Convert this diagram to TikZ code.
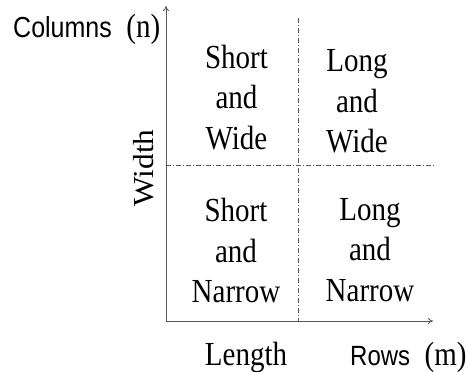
\documentclass[tikz,border=0pt]{standalone}
\usepackage{fontspec}
\setmainfont{Liberation Serif}
\newfontfamily\lsans{Liberation Sans}
\usetikzlibrary{arrows.meta}
\begin{document}
\begin{tikzpicture}[x=1pt,y=-1pt,
  axis/.style={draw=black!65, line width=0.8pt},
  divider/.style={draw=black!65, line width=0.7pt, dash pattern=on 5pt off 2pt on 1pt off 2pt},
  cell/.style={align=center, inner sep=0pt, font=\fontsize{29}{35}\selectfont, yscale=1.16},
  lbl/.style={inner sep=0pt, font=\fontsize{29}{35}\selectfont, yscale=1.16},
  slbl/.style={inner sep=0pt, font=\fontsize{29}{35}\selectfont, yscale=1.16}]
\useasboundingbox (0,0) rectangle (466,372);
% axes
\coordinate (O) at (166,321);
\coordinate (ytop) at (166,6);
\coordinate (xend) at (433,321);
\draw[axis, -{To[length=5pt,width=6pt]}] (O) -- (ytop);
\draw[axis, -{To[length=5pt,width=6pt]}] (O) -- (xend);
% dividers
\coordinate (vt) at (298.5,18);
\coordinate (vb) at (298.5,321);
\coordinate (hl) at (166,165);
\coordinate (hr) at (434,165);
\draw[divider] (vt) -- (vb);
\draw[divider] (hl) -- (hr);
% cells
\node[cell] (sw) at (236.5,97.5) {Short\\and\\Wide};
\node[cell] (lw) at (357,101.5) {Long\\and\\Wide};
\node[cell] (sn) at (236,250.5) {Short\\and\\Narrow};
\node[cell] (ln) at (370,250) {Long\\and\\Narrow};
% axis labels
\node[inner sep=0pt, font=\fontsize{29}{35}\selectfont, yscale=1.08, rotate=90] (width) at (144,168) {Width};
\node[lbl, anchor=base] (length) at (246,365) {Length};
\node[slbl, anchor=base west] (cols) at (13,37) {{\lsans\fontsize{25}{30}\selectfont Columns}\ \ (n)};
\node[slbl, anchor=base west] (rows) at (350,365) {{\lsans\fontsize{24}{30}\selectfont Rows}\ \ (m)};
\end{tikzpicture}
\end{document}
